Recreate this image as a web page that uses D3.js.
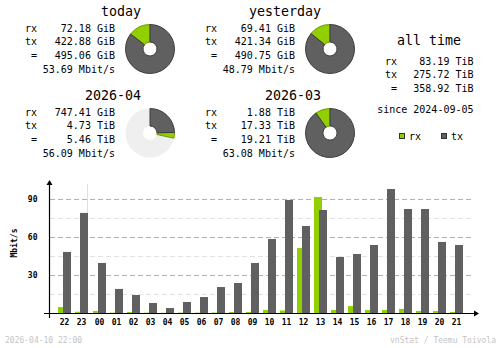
<!DOCTYPE html>
<html>
<head>
<meta charset="utf-8">
<script src="https://cdn.jsdelivr.net/npm/d3@7"></script>
<style>
  html, body { margin: 0; padding: 0; background: #fff; }
  svg { display: block; }
  text { font-family: "DejaVu Sans Mono", "Liberation Mono", monospace; }
</style>
</head>
<body>
<svg id="chart" width="500" height="348"></svg>
<script>
// ---- summary data ----
const summaryTitles = ["today", "yesterday", "2026-04", "2026-03"];
const rxAmounts    = [72.18, 69.41, 747.41, 1.88];
const rxUnits      = ["GiB", "GiB", "GiB", "TiB"];
const txAmounts    = [422.88, 421.34, 4.73, 17.33];
const txUnits      = ["GiB", "GiB", "TiB", "TiB"];
const totalAmounts = [495.06, 490.75, 5.46, 19.21];
const totalUnits   = ["GiB", "GiB", "TiB", "TiB"];
const avgRates     = [53.69, 48.79, 56.09, 63.08];
// index of the previous period each donut is compared against (-1 = none)
const comparedWith = [1, -1, 3, -1];

const allTimeRx = [83.19, "TiB"];
const allTimeTx = [275.72, "TiB"];
const allTimeTotal = [358.92, "TiB"];
const sinceDate = "2024-09-05";

// ---- hourly data (Mbit/s) ----
const hours = ["22","23","00","01","02","03","04","05","06","07","08","09",
               "10","11","12","13","14","15","16","17","18","19","20","21"];
const hourlyRx = [4.7, 1.0, 1.6, 0.3, 0.8, 0.3, 0.2, 0.3, 0.3, 0.4, 0.8, 0.8,
                  2.4, 2.0, 51.3, 91.6, 2.4, 5.5, 2.4, 2.4, 3.2, 1.6, 1.6, 0.8];
const hourlyTx = [48.2, 79.0, 39.5, 19.0, 14.2, 7.9, 3.9, 8.7, 12.6, 20.5, 23.7, 39.5,
                  58.4, 89.2, 68.7, 81.3, 44.2, 46.6, 53.7, 97.9, 82.1, 82.1, 56.1, 53.7];
const yTicks = [30, 60, 90];
const yMinorTicks = [15, 45, 75];

const footerLeft = "2026-04-10 22:00";
const footerRight = "vnStat / Teemu Toivola";

// ---- colours ----
const C_RX = "#92cf00", C_RX_D = "#6c9a00";
const C_TX = "#606060", C_TX_D = "#3c3c3c";
const C_PIE_BG = "#efefef";

const svg = d3.select("#chart");
const fmt = d3.format(".2f");
const toGiB = (v, u) => u === "TiB" ? v * 1024 : v;

// ---- summary blocks ----
const blocks = [[25, 0], [205, 0], [25, 84], [205, 84]];
const TAU = 2 * Math.PI;
const arc = d3.arc().innerRadius(7).outerRadius(24.5);

summaryTitles.forEach((title, i) => {
  const [bx, by] = blocks[i];
  const g = svg.append("g").attr("transform", `translate(${bx},${by})`);

  g.append("text").attr("x", 116).attr("y", 15.5).attr("text-anchor", "end")
    .attr("font-size", 13.3).attr("fill", "#000").text(title);

  const rows = [
    ["rx", `${fmt(rxAmounts[i])} ${rxUnits[i]}`, 32],
    ["tx", `${fmt(txAmounts[i])} ${txUnits[i]}`, 45],
    [" =", `${fmt(totalAmounts[i])} ${totalUnits[i]}`, 59]
  ];
  rows.forEach(([lab, val, y]) => {
    g.append("text").attr("x", 0).attr("y", y).attr("font-size", 10)
      .attr("xml:space", "preserve").style("white-space", "pre").text(lab);
    g.append("text").attr("x", 90).attr("y", y).attr("font-size", 10)
      .attr("text-anchor", "end").text(val);
  });
  g.append("text").attr("x", 90).attr("y", 73).attr("font-size", 10)
    .attr("text-anchor", "end").text(`${fmt(avgRates[i])} Mbit/s`);

  // donut: tx clockwise from 12 o'clock, rx following it
  const rx = toGiB(rxAmounts[i], rxUnits[i]);
  const tx = toGiB(txAmounts[i], txUnits[i]);
  const tot = toGiB(totalAmounts[i], totalUnits[i]);
  let ref = tot;
  if (comparedWith[i] >= 0) {
    const j = comparedWith[i];
    ref = Math.max(tot, toGiB(totalAmounts[j], totalUnits[j]));
  }
  const full = ref === tot;
  const txA = full ? tx / (rx + tx) * TAU : tx / ref * TAU;
  const rxA = full ? TAU - txA : rx / ref * TAU;

  const pg = g.append("g").attr("transform", "translate(125,49)");
  if (!full) {
    pg.append("path").attr("d", arc({startAngle: 0, endAngle: TAU})).attr("fill", C_PIE_BG);
  }
  pg.append("path").attr("d", arc({startAngle: txA, endAngle: txA + rxA}))
    .attr("fill", C_RX).attr("stroke", C_RX_D).attr("stroke-width", 1);
  pg.append("path").attr("d", arc({startAngle: 0, endAngle: txA}))
    .attr("fill", C_TX).attr("stroke", C_TX_D).attr("stroke-width", 1);
});

// ---- all time block ----
const at = svg.append("g");
at.append("text").attr("x", 429).attr("y", 44.5).attr("text-anchor", "middle")
  .attr("font-size", 13.3).text("all time");
[["rx", allTimeRx, 65], ["tx", allTimeTx, 78], [" =", allTimeTotal, 91.5]].forEach(([lab, v, y]) => {
  at.append("text").attr("x", 385).attr("y", y).attr("font-size", 10)
    .style("white-space", "pre").text(lab);
  at.append("text").attr("x", 473.5).attr("y", y).attr("font-size", 10)
    .attr("text-anchor", "end").text(`${fmt(v[0])} ${v[1]}`);
});
at.append("text").attr("x", 473.5).attr("y", 113).attr("font-size", 10)
  .attr("text-anchor", "end").text(`since ${sinceDate}`);

// legend
[["rx", C_RX, C_RX_D, 399], ["tx", C_TX, C_TX_D, 441]].forEach(([lab, c, cd, x]) => {
  at.append("rect").attr("x", x + 0.5).attr("y", 133.5).attr("width", 5).attr("height", 5)
    .attr("fill", c).attr("stroke", "#303030").attr("stroke-width", 1);
  at.append("text").attr("x", x + 10).attr("y", 139.5).attr("font-size", 10).text(lab);
});

// ---- hourly bar chart ----
const x0 = 55, step = 17;
const dayBreak = hours.indexOf("00");
const xBand = d3.scaleBand().domain(hours).range([x0, x0 + step * hours.length]);
const xPos = h => xBand(h) + (hours.indexOf(h) >= dayBreak ? 1 : 0);
const y = d3.scaleLinear().domain([0, 90]).range([313, 199]);
const plotRight = 472.5;

const chart = svg.append("g");

// minor gridlines
chart.selectAll("line.minor").data(yMinorTicks).join("line")
  .attr("x1", 50).attr("x2", plotRight)
  .attr("y1", d => Math.round(y(d)) + 0.5).attr("y2", d => Math.round(y(d)) + 0.5)
  .attr("stroke", "#e0e0e0").attr("stroke-dasharray", "5,3");
// major gridlines
chart.selectAll("line.major").data(yTicks).join("line")
  .attr("x1", 50).attr("x2", plotRight)
  .attr("y1", d => Math.round(y(d)) + 0.5).attr("y2", d => Math.round(y(d)) + 0.5)
  .attr("stroke", "#b0b0b0").attr("stroke-dasharray", "5,3");

// day change marker
const breakX = xPos("00") - 2.5;
chart.append("line").attr("x1", breakX).attr("x2", breakX)
  .attr("y1", 184).attr("y2", 313).attr("stroke", "#e0e0e0");

// bars
chart.selectAll("rect.rx").data(hours).join("rect")
  .attr("x", h => xPos(h) + 3).attr("width", 8)
  .attr("y", (h, i) => y(hourlyRx[i])).attr("height", (h, i) => y(0) - y(hourlyRx[i]))
  .attr("fill", C_RX);
chart.selectAll("rect.tx").data(hours).join("rect")
  .attr("x", h => xPos(h) + 8).attr("width", 8)
  .attr("y", (h, i) => y(hourlyTx[i])).attr("height", (h, i) => y(0) - y(hourlyTx[i]))
  .attr("fill", C_TX);

// axes
chart.append("line").attr("x1", 44).attr("x2", 476).attr("y1", 313.5).attr("y2", 313.5)
  .attr("stroke", "#000").attr("stroke-width", 1.2);
chart.append("line").attr("x1", 49.5).attr("x2", 49.5).attr("y1", 183).attr("y2", 318)
  .attr("stroke", "#000").attr("stroke-width", 1.2);
chart.append("path").attr("d", "M49.5,180 L46.5,185 L52.5,185 Z").attr("fill", "#000");
chart.append("path").attr("d", "M479,313.5 L474,310.5 L474,316.5 Z").attr("fill", "#000");

// y labels
chart.selectAll("text.ylab").data(yTicks).join("text")
  .attr("x", 37.5).attr("y", d => y(d) + 3).attr("text-anchor", "end")
  .attr("font-size", 8).attr("font-weight", "bold").text(d => d);
// x labels
chart.selectAll("text.xlab").data(hours).join("text")
  .attr("x", h => xPos(h) + 9.5).attr("y", 324.5).attr("text-anchor", "middle")
  .attr("font-size", 8).attr("font-weight", "bold").text(h => h);

chart.append("text").attr("transform", "translate(17,243) rotate(-90)")
  .attr("text-anchor", "middle").attr("font-size", 8).attr("font-weight", "bold").text("Mbit/s");

// footer
svg.append("text").attr("x", 5).attr("y", 342.5).attr("font-size", 8).attr("fill", "#c4c4c4").text(footerLeft);
svg.append("text").attr("x", 496).attr("y", 342.5).attr("font-size", 8).attr("fill", "#c4c4c4")
  .attr("text-anchor", "end").text(footerRight);
</script>
</body>
</html>
